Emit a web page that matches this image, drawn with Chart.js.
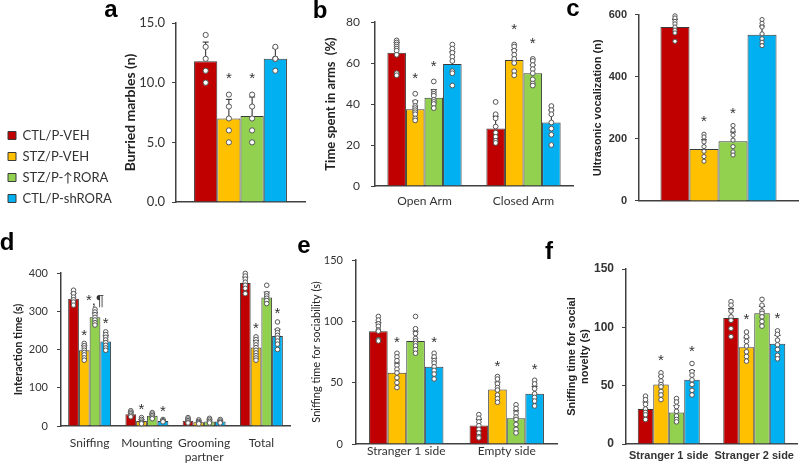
<!DOCTYPE html>
<html>
<head>
<meta charset="utf-8">
<script src="https://cdn.jsdelivr.net/npm/chart.js@4.4.0/dist/chart.umd.min.js"></script>
<style>
html, body { margin: 0; padding: 0; background: #fff; }
#wrap { position: relative; width: 800px; height: 464px; overflow: hidden; }
#wrap canvas { position: absolute; left: 0; top: 0; }
</style>
</head>
<body>
<div id="wrap">
  <canvas id="pa" width="800" height="464"></canvas>
  <canvas id="pb" width="800" height="464"></canvas>
  <canvas id="pc" width="800" height="464"></canvas>
  <canvas id="pd" width="800" height="464"></canvas>
  <canvas id="pe" width="800" height="464"></canvas>
  <canvas id="pf" width="800" height="464"></canvas>
</div>
<script>
// groups (one dataset each) and their colours
var groups = ['CTL/P-VEH', 'STZ/P-VEH', 'STZ/P-\u2191RORA', 'CTL/P-shRORA'];
var groupColors = ['#c00000', '#ffc000', '#92d050', '#00b0f0'];

// a - marble burying
var marbleCats = [''];
var marbleMeans = [[11.8], [7.0], [7.2], [12.0]];
var marbleErr = [[1.6], [1.6], [1.6], [0.9]];
var marbleDots = [[[14, 13, 12, 11, 10]], [[9, 8, 7, 6, 5]], [[9, 8, 7, 6, 5]], [[13, 12, 12, 12, 11]]];
var marbleStars = [[''], ['*'], ['*'], ['']];

// b - elevated plus maze
var armCats = ['Open Arm', 'Closed Arm'];
var armMeans = [[65, 28], [37.5, 61.5], [43, 55], [59.5, 31]];
var armErr = [[5, 6], [4, 5], [4, 4], [6, 6]];
var armDots = [
  [[71, 70, 69, 68, 67, 66, 64, 55, 54], [41, 35, 33, 29, 26, 24, 22, 21]],
  [[45, 41, 39, 38, 37, 36, 35, 33, 32], [69, 68, 66, 64, 62, 60, 56, 54]],
  [[51, 46, 45, 44, 42, 41, 40, 38], [62, 61, 59, 57, 55, 52, 50, 49]],
  [[69, 67, 65, 63, 61, 56, 55, 49], [39, 37, 35, 31, 28, 25, 20]]
];
var armStars = [['', ''], ['*', '*'], ['*', '*'], ['', '']];

// c - ultrasonic vocalization
var usvCats = [''];
var usvMeans = [[560], [167], [192], [535]];
var usvErr = [[25], [30], [30], [28]];
var usvDots = [
  [[596, 589, 578, 570, 560, 550, 541, 514]],
  [[215, 206, 190, 175, 160, 143, 128]],
  [[243, 228, 212, 196, 175, 158, 148]],
  [[584, 572, 560, 538, 522, 511, 500]]
];
var usvStars = [[''], ['*'], ['*'], ['']];

// d - social interaction
var interCats = ['Sniffing', 'Mounting', ['Grooming', 'partner'], 'Total'];
var interMeans = [[333, 31, 14, 374], [198, 13, 10, 205], [284, 27, 12, 336], [221, 13, 12, 235]];
var interErr = [[14, 5, 4, 15], [12, 4, 3, 18], [12, 4, 4, 14], [15, 3, 3, 18]];
var interDots = [
  [[355, 346, 337, 330, 324, 316], [40, 36, 32, 28, 24], [22, 18, 14, 10, 8], [399, 392, 384, 376, 368, 360, 346]],
  [[216, 210, 204, 198, 192, 186, 178, 172], [22, 17, 13, 9, 6], [16, 12, 9, 6], [233, 226, 219, 212, 205, 198, 191, 184, 178, 172]],
  [[305, 298, 291, 284, 277, 270, 264], [35, 31, 27, 23, 19], [20, 16, 12, 8], [368, 346, 340, 334, 328, 320]],
  [[246, 239, 232, 225, 218, 211, 204, 198], [17, 14, 11], [17, 13, 10, 8], [272, 251, 244, 237, 230, 222, 214, 200]]
];
var interStars = [['', '', '', ''], ['*', '*', '', '*'], ['*,\u00b6', '', '', ''], ['*', '*', '', '*']];

// e - sociability
var sociCats = ['Stranger 1 side', 'Empty side'];
var sociMeans = [[92, 15], [58, 44.5], [84, 21], [63, 41]];
var sociErr = [[7, 5], [8, 6], [8, 6], [7, 6]];
var sociDots = [
  [[104, 101, 98, 96, 93, 92, 85, 84], [24, 21, 18, 15, 12, 9, 6, 5]],
  [[74, 71, 68, 64, 61, 58, 54, 50, 46], [55, 53, 49, 46, 44, 40, 37, 34]],
  [[104, 94, 90, 86, 84, 82, 80, 77, 74], [32, 29, 25, 22, 20, 16, 12, 9]],
  [[74, 71, 68, 66, 63, 60, 57, 53], [52, 49, 45, 41, 38, 35, 31]]
];
var sociStars = [['', ''], ['*', '*'], ['', ''], ['*', '*']];

// f - social novelty
var novCats = ['Stranger 1 side', 'Stranger 2 side'];
var novMeans = [[30, 108], [51, 83], [27, 112], [55, 86]];
var novErr = [[6, 8], [7, 8], [6, 6], [8, 7]];
var novDots = [
  [[41, 38, 34, 30, 27, 25, 21], [122, 119, 114, 109, 106, 99, 92]],
  [[61, 58, 54, 51, 49, 45, 42, 38], [96, 92, 88, 84, 79, 75, 71]],
  [[39, 36, 32, 28, 24, 21, 19], [124, 119, 114, 112, 109, 105, 101]],
  [[69, 62, 59, 55, 51, 46, 42], [97, 94, 89, 85, 81, 76, 73]]
];
var novStars = [['', ''], ['*', '*'], ['', ''], ['*', '*']];

var ARIAL = '"Liberation Sans", Arial, sans-serif';

// error bars, single points, asterisks and panel letter
function decor(c) {
  return {
    id: 'decor',
    afterDatasetsDraw: function (chart) {
      var ctx = chart.ctx, ys = chart.scales.y;
      ctx.save();
      chart.data.datasets.forEach(function (ds, i) {
        chart.getDatasetMeta(i).data.forEach(function (bar, j) {
          var top = ys.getPixelForValue(ds.data[j] + c.err[i][j]);
          ctx.strokeStyle = '#222';
          ctx.lineWidth = 1;
          ctx.beginPath();
          ctx.moveTo(bar.x, bar.y);
          ctx.lineTo(bar.x, top);
          ctx.moveTo(bar.x - 3, top);
          ctx.lineTo(bar.x + 3, top);
          ctx.stroke();
          var hi = top;
          c.dots[i][j].forEach(function (v) {
            var py = ys.getPixelForValue(v);
            hi = Math.min(hi, py);
            ctx.beginPath();
            ctx.arc(bar.x, py, c.dotR, 0, Math.PI * 2);
            ctx.fillStyle = '#fff';
            ctx.fill();
            ctx.strokeStyle = '#555';
            ctx.stroke();
          });
          var s = c.stars[i][j];
          if (s) {
            ctx.fillStyle = '#333';
            ctx.font = '15px "Liberation Sans"';
            ctx.textAlign = 'center';
            ctx.textBaseline = 'middle';
            ctx.fillText(s, bar.x, hi - c.starGap + 4);
          }
        });
      });
      ctx.font = 'bold 24px "Liberation Sans"';
      ctx.fillStyle = '#000';
      ctx.textAlign = 'center';
      ctx.textBaseline = 'middle';
      ctx.fillText(c.letter[0], c.letter[1], c.letter[2]);
      ctx.restore();
    }
  };
}

function panel(id, c) {
  return new Chart(document.getElementById(id), {
    type: 'bar',
    data: {
      labels: c.cats,
      datasets: groups.map(function (g, i) {
        return {
          label: g,
          data: c.means[i],
          backgroundColor: groupColors[i],
          borderColor: '#3a3a3a',
          borderWidth: 1,
          categoryPercentage: c.catPct,
          barPercentage: 1
        };
      })
    },
    options: {
      responsive: false,
      animation: false,
      layout: { padding: c.pad },
      plugins: {
        legend: c.legend || { display: false },
        tooltip: { enabled: false }
      },
      scales: {
        x: {
          offset: true,
          grid: { drawOnChartArea: false, drawTicks: false },
          border: { color: '#404040', width: 1.5 },
          ticks: { display: !!c.xFont, color: '#333', font: c.xFont, padding: c.xPad || 0, autoSkip: false, maxRotation: 0 },
          afterFit: function (s) { s.height = c.xH; }
        },
        y: {
          min: 0,
          max: c.yMax,
          grid: { drawOnChartArea: false, drawTicks: true, tickLength: 4, color: '#404040' },
          border: { color: '#404040', width: 1.5 },
          ticks: { stepSize: c.yStep, color: '#333', font: c.yFont, padding: c.yPad, callback: c.yFmt },
          title: { display: true, text: c.yTitle, color: '#222', font: c.titleFont, padding: { top: 4, bottom: 4 } },
          afterFit: function (s) { s.width = typeof c.yW === 'function' ? c.yW(s) : c.yW; }
        }
      }
    },
    plugins: [decor(c)]
  });
}

panel('pa', {
  cats: marbleCats, means: marbleMeans, err: marbleErr, dots: marbleDots, stars: marbleStars,
  catPct: 0.72, yMax: 15, yStep: 5, yFmt: function (v) { return v.toFixed(1); },
  yTitle: 'Burried marbles (n)',
  yFont: { family: 'Lato', size: 13 }, titleFont: { family: 'Lato', size: 14, weight: 'bold' },
  pad: { left: 0, top: 23, right: 495, bottom: 251 }, xH: 11, yPad: 7,
  yW: function (s) { return 176 - s.chart.legend.width; },
  dotR: 2.6, starGap: 20, letter: ['a', 111, 10],
  legend: {
    display: true, position: 'left', align: 'end', fullSize: true, maxWidth: 118,
    labels: { boxWidth: 8, boxHeight: 8, padding: 8, color: '#333', font: { family: 'Lato', size: 13 } }
  }
});

panel('pb', {
  cats: armCats, means: armMeans, err: armErr, dots: armDots, stars: armStars,
  catPct: 0.75, yMax: 80, yStep: 20,
  yTitle: 'Time spent in arms  (%)',
  yFont: { family: 'Lato', size: 12 }, titleFont: { family: 'Lato', size: 13, weight: 'bold' },
  xFont: { family: 'Lato', size: 12 }, xPad: 8,
  pad: { left: 319, top: 22, right: 227, bottom: 248 }, xH: 30, yW: 56, yPad: 11,
  dotR: 2.4, starGap: 19, letter: ['b', 320, 11]
});

panel('pc', {
  cats: usvCats, means: usvMeans, err: usvErr, dots: usvDots, stars: usvStars,
  catPct: 0.73, yMax: 600, yStep: 200,
  yTitle: 'Ultrasonic vocalization (n)',
  yFont: { family: ARIAL, size: 11, weight: 'bold' }, titleFont: { family: ARIAL, size: 11, weight: 'bold' },
  pad: { left: 587, top: 14, right: 2, bottom: 251 }, xH: 12, yW: 52, yPad: 8,
  dotR: 2.1, starGap: 16, letter: ['c', 573, 9]
});

panel('pd', {
  cats: interCats, means: interMeans, err: interErr, dots: interDots, stars: interStars,
  catPct: 0.75, yMax: 400, yStep: 100,
  yTitle: 'Interaction time (s)',
  yFont: { family: 'Lato', size: 11 }, titleFont: { family: 'Lato', size: 11, weight: 'bold' },
  xFont: { family: 'Lato', size: 12 }, xPad: 10,
  pad: { left: 8, top: 273, right: 510, bottom: 0 }, xH: 38, yW: 53, yPad: 9,
  dotR: 2.3, starGap: 12, letter: ['d', 7, 243]
});

panel('pe', {
  cats: sociCats, means: sociMeans, err: sociErr, dots: sociDots, stars: sociStars,
  catPct: 0.74, yMax: 150, yStep: 50,
  yTitle: 'Sniffing time for sociability (s)',
  yFont: { family: 'Lato', size: 11 }, titleFont: { family: 'Lato', size: 11 },
  xFont: { family: 'Lato', size: 12 }, xPad: 0,
  pad: { left: 306, top: 260, right: 243, bottom: 0 }, xH: 20, yW: 50, yPad: 9,
  dotR: 2.3, starGap: 14, letter: ['e', 304, 246]
});

panel('pf', {
  cats: novCats, means: novMeans, err: novErr, dots: novDots, stars: novStars,
  catPct: 0.725, yMax: 150, yStep: 50,
  yTitle: ['Sniffing time for social', 'novelty (s)'],
  yFont: { family: ARIAL, size: 12, weight: 'bold' }, titleFont: { family: ARIAL, size: 11, weight: 'bold', lineHeight: 1.15 },
  xFont: { family: ARIAL, size: 11, weight: 'bold' }, xPad: 5,
  pad: { left: 562, top: 269, right: 3, bottom: 0 }, xH: 20, yW: 64, yPad: 8,
  dotR: 2.3, starGap: 16, letter: ['f', 549, 252]
});
</script>
</body>
</html>
